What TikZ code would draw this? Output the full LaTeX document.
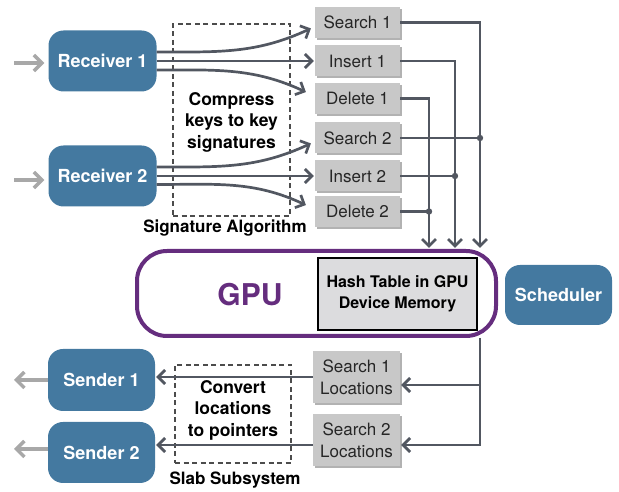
\documentclass[tikz,border=0pt]{standalone}
\usepackage{fontspec}
\setmainfont{TeX Gyre Heros}
\usetikzlibrary{arrows.meta,shadows,calc}
\definecolor{boxblue}{RGB}{68,121,160}
\definecolor{gpupurple}{RGB}{101,45,126}
\definecolor{linkgray}{RGB}{82,87,97}
\definecolor{lightarr}{RGB}{168,168,168}
\definecolor{opfill}{RGB}{200,200,200}
\definecolor{hashfill}{RGB}{220,220,222}
\begin{document}
\begin{tikzpicture}[x=1pt,y=1pt,
 bluebox/.style={fill=boxblue, rounded corners=15pt, text=white, font=\fontsize{18}{20}\selectfont\bfseries, minimum width=108pt, minimum height=61pt, inner sep=0pt},
 opbox/.style={fill=opfill, text=black!85, font=\fontsize{17}{21}\selectfont, minimum width=85pt, minimum height=31pt, inner sep=0pt, align=center, drop shadow={shadow xshift=1.5pt, shadow yshift=-2pt, opacity=0.3, fill=black}},
 dashbox/.style={draw=black!70, line width=2pt, dash pattern=on 5pt off 3.5pt, inner sep=0pt},
 lbl/.style={font=\fontsize{17.5}{21.5}\selectfont\bfseries, align=center, text=black},
 link/.style={draw=linkgray, line width=2.7pt, -{Straight Barb[length=7pt,width=14pt]}, shorten >=1pt},
 plainlink/.style={draw=linkgray, line width=2.7pt},
 grayarrow/.style={draw=lightarr, line width=3.5pt, -{Straight Barb[length=8pt,width=16pt]}},
]
\useasboundingbox (0,0) rectangle (619,492);

% dashed boxes and labels
\node[dashbox, minimum width=117pt, minimum height=192pt] (sig) at (231.5,372) {};
\node[lbl] (sigtext) at (231.5,370) {Compress\\keys to key\\signatures};
\node[lbl, font=\fontsize{17}{20}\selectfont\bfseries, anchor=base] (siglabel) at (225,259) {Signature Algorithm};

\node[dashbox, minimum width=116pt, minimum height=98pt] (slab) at (233,78) {};
\node[lbl] (slabtext) at (233,82) {Convert\\locations\\to pointers};
\node[lbl, font=\fontsize{17}{20}\selectfont\bfseries, anchor=base] (slablabel) at (235,7) {Slab Subsystem};

% receivers
\node[bluebox] (rec1) at (102.5,431) {Receiver 1};
\node[bluebox] (rec2) at (102.5,316) {Receiver 2};

% operation boxes
\node[opbox] (s1) at (357.5,469.5) {Search 1};
\node[opbox] (i1) at (357.5,431) {Insert 1};
\node[opbox] (d1) at (357.5,393.5) {Delete 1};
\node[opbox] (s2) at (357.5,354) {Search 2};
\node[opbox] (i2) at (357.5,316) {Insert 2};
\node[opbox] (d2) at (357.5,280.5) {Delete 2};

% GPU
\node[draw=gpupurple, line width=4pt, rounded corners=30pt, minimum width=359pt, minimum height=85pt] (gpu) at (316.5,198.5) {};
\node[text=gpupurple, font=\fontsize{30}{30}\selectfont\bfseries] (gputext) at (250,197) {GPU};
\node[draw=black, line width=1.8pt, fill=hashfill, minimum width=159pt, minimum height=72pt, align=center, font=\fontsize{16}{21}\selectfont\bfseries, inner sep=0pt] (hash) at (397.5,198) {Hash Table in GPU\\Device Memory};
\node[bluebox, minimum width=107pt, minimum height=60pt] (sched) at (558.5,197) {Scheduler};

% locations and senders
\node[opbox, minimum width=87pt, minimum height=52pt, font=\fontsize{17}{22}\selectfont] (sl1) at (356.5,115) {Search 1\\Locations};
\node[opbox, minimum width=87pt, minimum height=52pt, font=\fontsize{17}{22}\selectfont] (sl2) at (356.5,52) {Search 2\\Locations};
\node[bluebox, minimum width=107pt, minimum height=62pt] (snd1) at (101.5,112) {Sender 1};
\node[bluebox, minimum width=107pt, minimum height=61pt] (snd2) at (101.5,39.5) {Sender 2};

% gray in/out arrows
\coordinate (in1) at (14,429);
\coordinate (in2) at (14,312);
\coordinate (out1) at (14,112);
\coordinate (out2) at (14,43);
\draw[grayarrow, shorten >=4pt] (in1) -- (in1 -| rec1.west);
\draw[grayarrow, shorten >=4pt] (in2) -- (in2 -| rec2.west);
\draw[grayarrow] (out1 -| snd1.west) -- (out1);
\draw[grayarrow] (out2 -| snd2.west) -- (out2);

% receiver fan-out
\draw[link] ([yshift=9pt]rec1.east) to[out=0,in=205] ([xshift=-3pt,yshift=-5.5pt]s1.west);
\draw[link] (rec1.east) -- (i1.west);
\draw[link] ([yshift=-9pt]rec1.east) to[out=0,in=155] ([xshift=-8pt,yshift=6pt]d1.west);
\draw[link] ([yshift=9pt]rec2.east) to[out=0,in=205] ([xshift=-3pt,yshift=-5pt]s2.west);
\draw[link] (rec2.east) -- (i2.west);
\draw[link] ([yshift=-8.5pt]rec2.east) to[out=0,in=155] ([xshift=-8pt,yshift=6pt]d2.west);

% to GPU
\coordinate (t1) at (480,244);
\coordinate (t2) at (455,244);
\coordinate (t3) at (429,244);
\draw[link, shorten >=0pt] (s1.east) -| (t1);
\draw[link, shorten >=0pt] (i1.east) -| (t2);
\draw[link, shorten >=0pt] (d1.east) -| (t3);
\draw[plainlink] (s2.east) -- (s2.east -| t1);
\draw[plainlink] (i2.east) -- (i2.east -| t2);
\draw[plainlink] (d2.east) -- (d2.east -| t3);
\fill[linkgray] (s2.east -| t1) circle (3.2pt);
\fill[linkgray] (i2.east -| t2) circle (3.2pt);
\fill[linkgray] (d2.east -| t3) circle (3.2pt);

% from GPU
\coordinate (b0) at (480,154);
\coordinate (b1) at (480,107);
\coordinate (b2) at (480,47);
\draw[link] (b0) -- (b2) -- (b2 -| sl2.east);
\draw[link] (b1) -- (b1 -| sl1.east);
\draw[link] (sl1.west) -- (sl1.west -| snd1.east);
\draw[link] (b2 -| sl2.west) -- (b2 -| snd2.east);
\end{tikzpicture}
\end{document}
